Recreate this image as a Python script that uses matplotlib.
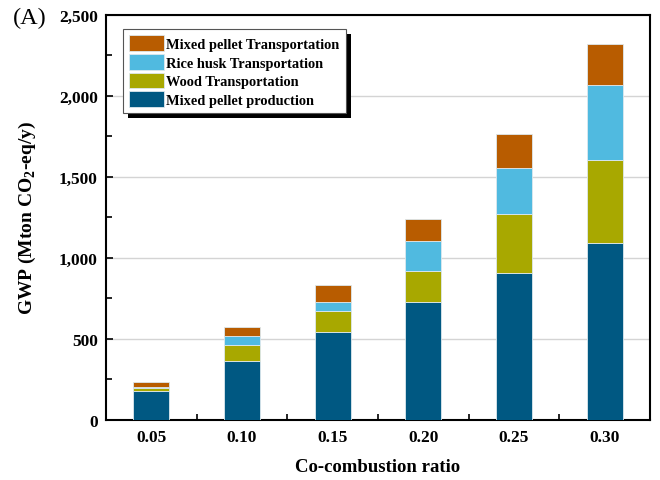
import numpy as np
import matplotlib
matplotlib.use('Agg')
import matplotlib.pyplot as plt
from matplotlib.patches import Rectangle
from matplotlib.ticker import FuncFormatter, MultipleLocator, FixedLocator

plt.rcParams['font.family'] = ['Liberation Serif', 'DejaVu Serif']
plt.rcParams['mathtext.fontset'] = 'custom'
plt.rcParams['mathtext.rm'] = 'Liberation Serif:bold'
plt.rcParams['mathtext.bf'] = 'Liberation Serif:bold'

# ===== data =====
ratios = ['0.05', '0.10', '0.15', '0.20', '0.25', '0.30']
pellet_production = [177, 363, 540, 726, 909, 1093]
wood_transport = [17, 101, 130, 192, 361, 511]
rice_husk_transport = [8, 52, 60, 183, 282, 462]
pellet_transport = [33, 59, 103, 136, 213, 255]

series = [
    ('Mixed pellet production', pellet_production, '#005882'),
    ('Wood Transportation', wood_transport, '#A8A800'),
    ('Rice husk Transportation', rice_husk_transport, '#50BAE0'),
    ('Mixed pellet Transportation', pellet_transport, '#B85C00'),
]

fig = plt.figure(figsize=(6.6, 4.81), dpi=100)
ax = fig.add_axes([0.1606, 0.1254, 0.8242, 0.8413])

x = np.arange(len(ratios))
bottom = np.zeros(len(ratios))
handles = []
for name, vals, col in series:
    b = ax.bar(x, vals, 0.4, bottom=bottom, color=col, edgecolor='#dde8ee',
               linewidth=0.6, label=name, zorder=3)
    handles.append(b)
    bottom += np.array(vals)

ax.set_xlim(-0.5, 5.5)
ax.set_ylim(0, 2500)
ax.set_xticks(x)
ax.set_xticklabels(ratios)
ax.xaxis.set_minor_locator(FixedLocator(x[:-1] + 0.5))
ax.yaxis.set_major_locator(MultipleLocator(500))
ax.yaxis.set_minor_locator(MultipleLocator(250))
ax.yaxis.set_major_formatter(FuncFormatter(lambda v, p: f'{int(v):,}'))

ax.tick_params(axis='x', which='major', length=0, pad=7)
ax.tick_params(axis='x', which='minor', direction='in', length=4, width=1.2)
ax.tick_params(axis='y', which='major', direction='in', length=5, width=1.2, pad=6)
ax.tick_params(axis='y', which='minor', direction='in', length=4, width=1.2)
for lab in ax.get_xticklabels() + ax.get_yticklabels():
    lab.set_fontweight('bold')
    lab.set_fontsize(12.5)

ax.grid(axis='y', color='#d4d4d4', linewidth=1, zorder=0)
for s in ax.spines.values():
    s.set_linewidth(1.5)

ax.set_xlabel('Co-combustion ratio', fontsize=13.5, fontweight='bold', labelpad=9)
ax.set_ylabel(r'GWP (Mton CO$_{2}$-eq/y)', fontsize=14, fontweight='bold', labelpad=15)

fig.text(0.02, 0.962, '(A)', fontsize=17.5, va='center', ha='left')

leg = ax.legend(handles[::-1], [s[0] for s in series][::-1],
                loc='upper left', bbox_to_anchor=(0.031, 0.966),
                fancybox=False, edgecolor='#555555', framealpha=1,
                prop={'weight': 'bold', 'size': 10.4},
                handlelength=2.4, handleheight=1.3, handletextpad=0.15,
                labelspacing=0.2, borderpad=0.45, borderaxespad=0)
leg.get_frame().set_linewidth(0.8)
leg.set_zorder(6)

# black drop shadow behind the legend box
fig.canvas.draw()
bb = leg.get_frame().get_window_extent()
shadow = Rectangle((bb.x0 + 5, bb.y0 - 5), bb.width, bb.height, transform=None,
                   facecolor='black', edgecolor='none', zorder=5.5)
ax.add_artist(shadow)

fig.savefig('out.png', dpi=100)
